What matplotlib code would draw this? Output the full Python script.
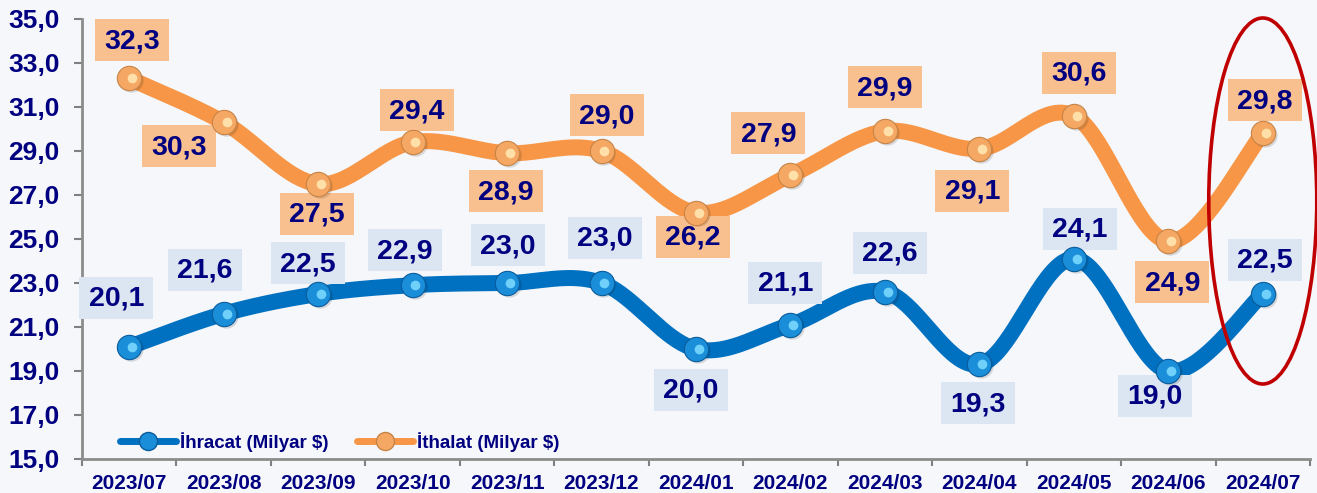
import numpy as np
import matplotlib
matplotlib.use("Agg")
import matplotlib.pyplot as plt
from matplotlib import transforms as mtransforms
from matplotlib.patches import Rectangle, Ellipse
from matplotlib.lines import Line2D
from matplotlib.ticker import FixedLocator, FuncFormatter

# ---------------- data ----------------
months = ["2023/07", "2023/08", "2023/09", "2023/10", "2023/11", "2023/12", "2024/01",
          "2024/02", "2024/03", "2024/04", "2024/05", "2024/06", "2024/07"]
exports = [20.1, 21.6, 22.5, 22.9, 23.0, 23.0, 20.0, 21.1, 22.6, 19.3, 24.1, 19.0, 22.5]
imports = [32.3, 30.3, 27.5, 29.4, 28.9, 29.0, 26.2, 27.9, 29.9, 29.1, 30.6, 24.9, 29.8]
y_ticks = [15, 17, 19, 21, 23, 25, 27, 29, 31, 33, 35]
export_name = "İhracat (Milyar $)"
import_name = "İthalat (Milyar $)"

# label placement (pixel offsets of label centre from the point)
imp_off = [(3, 38), (-45, -24), (-1, -30), (4, 32), (-1, -38), (5, 36), (-3, -24),
           (-22, 42), (0, 44), (-7, -42), (5, 43), (4, -41), (2, 33)]
exp_off = [(-13, 49), (-19, 44), (-10, 31), (-8, 35), (1, 38), (3, 45), (-5, -41),
           (-5, 42), (5, 39), (-1, -39), (6, 30), (-13, -25), (2, 34)]

# ---------------- style ----------------
FONT = "Liberation Sans"
NAVY = "#000080"
ORANGE = "#F79646"
BLUE = "#0070C0"
BG = "#F5F7FB"

plt.rcParams["font.family"] = [FONT, "DejaVu Sans"]
plt.rcParams["font.weight"] = "bold"

W, H = 1317, 493
fig = plt.figure(figsize=(W / 100, H / 100), dpi=100, facecolor=BG)
ax = fig.add_axes([82 / W, 34 / H, 1228 / W, 440 / H], facecolor=BG)

n = len(months)
x = np.arange(n)


def smooth(vals, steps=40):
    pts = np.column_stack([np.arange(len(vals)), vals]).astype(float)
    P = np.vstack([pts[0], pts, pts[-1]])
    out = []
    t = np.linspace(0, 1, steps)[:, None]
    for i in range(len(pts) - 1):
        p0, p1, p2, p3 = P[i], P[i + 1], P[i + 2], P[i + 3]
        c1 = p1 + (p2 - p0) / 6.0
        c2 = p2 - (p3 - p1) / 6.0
        seg = (1 - t) ** 3 * p1 + 3 * (1 - t) ** 2 * t * c1 + 3 * (1 - t) * t ** 2 * c2 + t ** 3 * p2
        out.append(seg if i == 0 else seg[1:])
    return np.vstack(out)


def draw_series(vals, color, face, edge, inner, offsets, boxcolor, z):
    c = smooth(vals)
    ax.plot(c[:, 0], c[:, 1], color=color, lw=11.5, solid_capstyle="round", zorder=z)
    for i, v in enumerate(vals):
        dx, dy = offsets[i]
        tr = fig.dpi_scale_trans + mtransforms.ScaledTranslation(i, v, ax.transData)
        ax.add_patch(Rectangle(((dx - 37) / 100, (dy - 21) / 100), 0.74, 0.42,
                               transform=tr, facecolor=boxcolor, edgecolor="none",
                               zorder=z + 1, clip_on=False))
    ax.plot(x + 0.02, np.array(vals) - 0.08, "o", ms=17.5, color="#00000022", mec="none", zorder=z + 2)
    ax.plot(x, vals, "o", ms=17.5, mfc=face, mec=edge, mew=0.8, zorder=z + 2)
    ax.plot(x + 0.03, vals, "o", ms=7, mfc=inner, mec="none", zorder=z + 2)
    for i, v in enumerate(vals):
        dx, dy = offsets[i]
        ax.annotate(f"{v:.1f}".replace(".", ","), (i, v), xytext=(dx, dy - 1),
                    textcoords="offset pixels", ha="center", va="center",
                    fontsize=20.5, fontweight="bold", color=NAVY, zorder=z + 3,
                    annotation_clip=False)


draw_series(imports, ORANGE, "#F4A864", "#C88446", "#FFE0A8", imp_off, "#F9C08F", 2)
draw_series(exports, BLUE, "#1A8ED8", "#0A5C9C", "#6FD0FA", exp_off, "#DCE6F2", 6)

# red ellipse highlighting last month
ax.add_patch(Ellipse((12, 15 + (459 - 201) / 22), 108 / 94.46, 366 / 22, fill=False,
                     edgecolor="#C00000", lw=2.6, zorder=12, clip_on=False))

# ---------------- axes ----------------
ax.set_xlim(-0.5, n - 0.5)
ax.set_ylim(y_ticks[0], y_ticks[-1])
ax.yaxis.set_major_locator(FixedLocator(y_ticks))
ax.yaxis.set_major_formatter(FuncFormatter(lambda v, p: f"{v:.1f}".replace(".", ",")))
ax.tick_params(axis="y", length=6, width=1.5, color="#808080", labelsize=19,
               labelcolor=NAVY, pad=10)
ax.xaxis.set_major_locator(FixedLocator(np.arange(-0.5, n, 1.0)))
ax.xaxis.set_major_formatter(FuncFormatter(lambda v, p: ""))
ax.set_xticks(x, months, minor=True)
ax.tick_params(axis="x", which="major", length=5, width=1.5, color="#808080")
ax.tick_params(axis="x", which="minor", length=0, labelsize=15, labelcolor=NAVY, pad=11)
for lab in ax.get_xticklabels(minor=True) + ax.get_yticklabels():
    lab.set_fontweight("bold")
for s in ["top", "right"]:
    ax.spines[s].set_visible(False)
for s in ["left", "bottom"]:
    ax.spines[s].set_color("#8C8C8C")
    ax.spines[s].set_linewidth(2)

# ---------------- legend ----------------
h1 = Line2D([], [], color=BLUE, lw=5, marker="o", ms=13, mfc="#1A8ED8", mec="#0A5C9C",
            solid_capstyle="round")
h2 = Line2D([], [], color=ORANGE, lw=5, marker="o", ms=13, mfc="#F4A864", mec="#C88446",
            solid_capstyle="round")
leg = ax.legend([h1, h2], [export_name, import_name], ncol=2, loc="center left",
                bbox_to_anchor=(38 / 1228, 17 / 440), frameon=False, borderpad=0,
                borderaxespad=0, handlelength=3.0, handletextpad=0.2, columnspacing=1.5,
                prop={"family": FONT, "weight": "bold", "size": 13.5})
for t in leg.get_texts():
    t.set_color(NAVY)

fig.savefig("out.png", dpi=100, facecolor=BG)
